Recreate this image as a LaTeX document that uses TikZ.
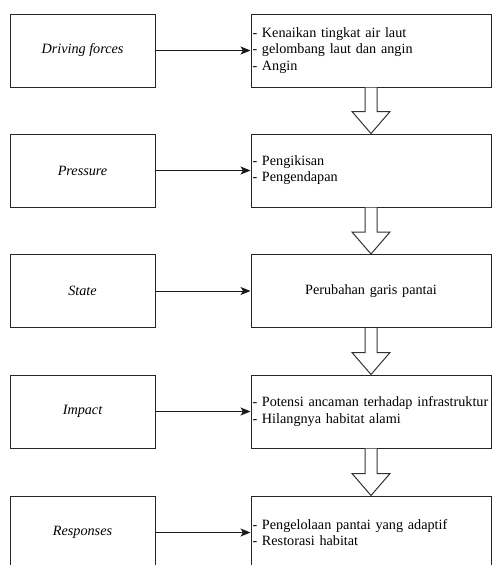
\documentclass[tikz,border=0pt]{standalone}
\usepackage{fontspec}
\setmainfont{Liberation Serif}
\usetikzlibrary{calc,arrows.meta}
\begin{document}
\begin{tikzpicture}[x=1pt,y=-1pt,
  every node/.style={font=\fontsize{14.2}{16.2}\selectfont},
  lbox/.style={draw=black!85,line width=1pt,minimum width=145pt,minimum height=73pt,inner sep=0pt,font=\fontsize{14.2}{16.2}\selectfont\itshape},
  rbox/.style={draw=black!85,line width=1pt,minimum width=240pt,minimum height=73pt,inner xsep=1.2pt,inner ysep=0pt,text width=237pt,align=left},
  cbox/.style={rbox,align=center},
  link/.style={draw=black!90,line width=1pt,-{Stealth[length=10pt,width=8pt,inset=2.5pt]}},
  blockarrow/.style={draw=black!80,line width=1pt,fill=white,line join=miter}]
\useasboundingbox (0,0) rectangle (492,565);
\clip (0,0) rectangle (492,565);
\fill[white] (0,0) rectangle (492,565);
% left boxes
\node[lbox] (l1) at (82.5,50.5) {Driving forces};
\node[lbox] (l2) at (82.5,170.5) {Pressure};
\node[lbox] (l3) at (82.5,291) {State};
\node[lbox] (l4) at (82.5,411.5) {Impact};
\node[lbox] (l5) at (82.5,532.5) {Responses};
% right boxes
\node[rbox] (r1) at (371,50.5) {- Kenaikan tingkat air laut\\- gelombang laut dan angin\\- Angin};
\node[rbox] (r2) at (371,170.5) {- Pengikisan\\- Pengendapan};
\node[cbox] (r3) at (371,291) {Perubahan garis pantai};
\node[rbox] (r4) at (371,411.5) {- Potensi ancaman terhadap infrastruktur\\- Hilangnya habitat alami};
\node[rbox] (r5) at (371,532.5) {- Pengelolaan pantai yang adaptif\\- Restorasi habitat};
% horizontal connectors
\draw[link] (l1) -- (r1);
\draw[link] (l2) -- (r2);
\draw[link] (l3) -- (r3);
\draw[link] (l4) -- (r4);
\draw[link] (l5) -- (r5);
% block arrows
\foreach \a/\b in {r1/r2,r2/r3,r3/r4,r4/r5}{
  \draw[blockarrow] ($(\a.south)+(-6,0)$) -- ($(\b.north)+(-6,-22)$) -- ($(\b.north)+(-19,-22)$) -- (\b.north) -- ($(\b.north)+(19,-22)$) -- ($(\b.north)+(6,-22)$) -- ($(\a.south)+(6,0)$);
}
\end{tikzpicture}
\end{document}
